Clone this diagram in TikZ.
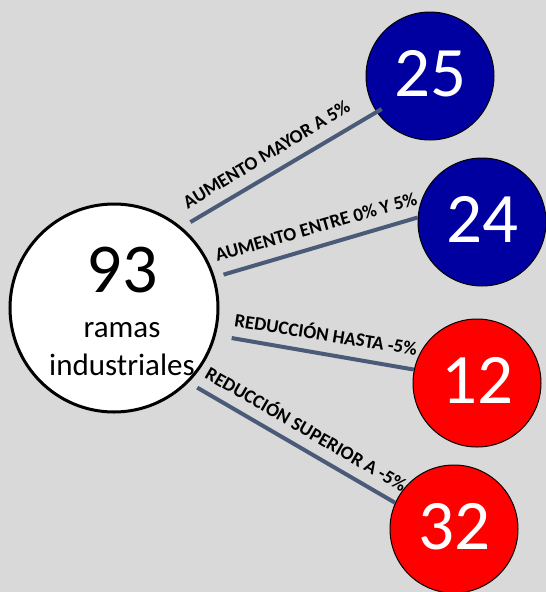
\documentclass[tikz,border=0pt]{standalone}
\usepackage{fontspec}
\setmainfont{Carlito}
\definecolor{bgc}{HTML}{D9D9D9}
\definecolor{bluec}{HTML}{0000A0}
\definecolor{redc}{HTML}{FF0000}
\definecolor{linec}{HTML}{4A5B78}
\tikzset{
  bigcirc/.style={circle, draw=black, line width=3pt, fill=white, minimum size=208pt, inner sep=0pt},
  numcirc/.style={circle, draw=black, line width=1pt, minimum size=128pt, inner sep=0pt, text=white,
    font=\fontsize{71}{73}\selectfont, text depth=6pt},
  conn/.style={draw=linec, line width=4pt},
  lbl/.style={font=\fontsize{19}{21}\selectfont\bfseries, inner sep=0pt, text height=12.5pt, text depth=0pt, text=black},
}
\begin{document}
\begin{tikzpicture}[x=1pt,y=-1pt]
\fill[bgc] (0,0) rectangle (546,592);
\useasboundingbox (0,0) rectangle (546,592);

\node[bigcirc] (big) at (114,308) {};
\node[anchor=base, inner sep=0pt, font=\fontsize{70}{72}\selectfont] (n93) at (122,292) {93};
\node[anchor=base, inner sep=0pt, font=\fontsize{31}{33}\selectfont] (ramas) at (122,337) {ramas};
\node[anchor=base, inner sep=0pt, font=\fontsize{31}{33}\selectfont] (indus) at (122,375) {industriales};

\node[numcirc, fill=bluec] (c25) at (430,76) {25};
\node[numcirc, fill=bluec] (c24) at (482,222) {24};
\node[numcirc, fill=redc] (c12) at (477,383) {12};
\node[numcirc, fill=redc] (c32) at (454,529) {32};

\draw[conn, shorten <=10pt, shorten >=-6pt] (big.50) -- (c25.214);
\draw[conn, shorten <=9pt] (big.17) -- (c24.176);
\draw[conn, shorten <=16pt] (big.-15) -- (c12.168);
\draw[conn, shorten <=10pt] (big.-45) -- (c32.156);

\node[lbl, rotate=31] (l1) at (266.5,154.5) {AUMENTO MAYOR A 5\%};
\node[lbl, rotate=16] (l2) at (316,227) {AUMENTO ENTRE 0\% Y 5\%};
\node[lbl, rotate=-9] (l3) at (326,335) {REDUCCIÓN HASTA -5\%};
\node[lbl, rotate=-30] (l4) at (306,429.5) {REDUCCIÓN SUPERIOR A -5\%};
\end{tikzpicture}
\end{document}
